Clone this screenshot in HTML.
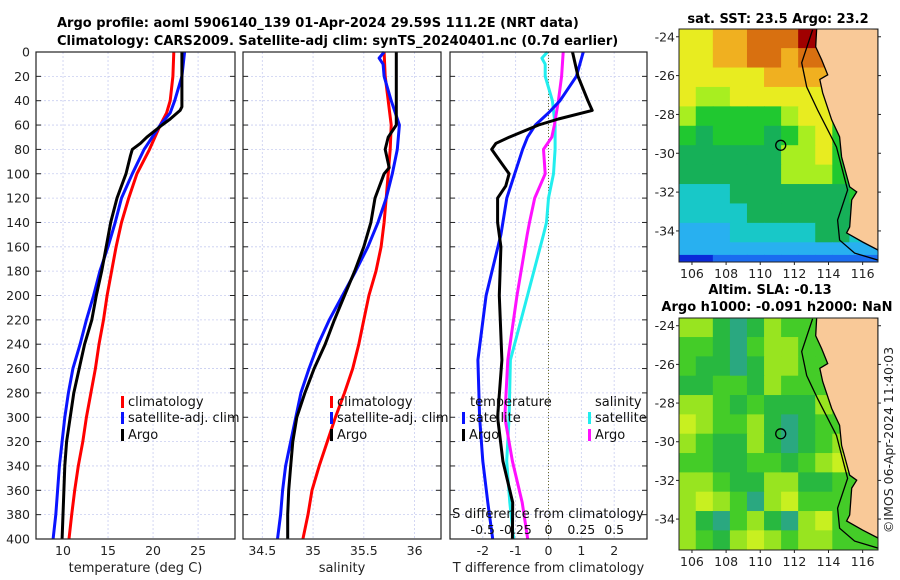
<!DOCTYPE html>
<html><head><meta charset="utf-8">
<style>
html,body{margin:0;padding:0;background:#fff;}
svg{display:block;font-family:"DejaVu Sans","Liberation Sans",sans-serif;}
</style></head>
<body>
<svg id="fig" width="900" height="580" viewBox="0 0 900 580">
<text x="57" y="27" font-size="13" font-weight="bold">Argo profile: aoml 5906140_139 01-Apr-2024 29.59S 111.2E (NRT data)</text>
<text x="57" y="45" font-size="13" font-weight="bold">Climatology: CARS2009. Satellite-adj clim: synTS_20240401.nc (0.7d earlier)</text>
<text x="778" y="23" font-size="13" font-weight="bold" text-anchor="middle">sat. SST: 23.5 Argo: 23.2</text>
<text x="770" y="294" font-size="13" font-weight="bold" text-anchor="middle">Altim. SLA: -0.13</text>
<text x="777" y="311" font-size="13" font-weight="bold" text-anchor="middle">Argo h1000: -0.091 h2000: NaN</text>
<text x="0" y="0" font-size="12.5" fill="#222" text-anchor="middle" transform="translate(893,440) rotate(-90)">©IMOS 06-Apr-2024 11:40:03</text>
</svg>
<script>
// ---------- profile data ----------
const tDepthRed=[0,20,40,50,60,80,100,120,140,160,180,200,220,240,260,280,300,320,340,360,380,400];
const tRed=[22.3,22.2,21.9,21.5,20.8,19.6,18.2,17.3,16.5,15.9,15.4,14.9,14.5,14.0,13.6,13.1,12.6,12.2,11.7,11.3,10.96,10.67];
const tDepthBlue=[0,20,40,50,60,80,100,120,140,160,180,200,220,240,260,280,300,320,340,360,380,400];
const tBlue=[23.5,23.2,22.4,21.9,20.8,19.0,17.7,16.5,15.8,15.0,14.1,13.4,12.6,11.9,11.1,10.6,10.2,9.9,9.6,9.4,9.2,8.9];
const tDepthBlack=[0,45,48,55,60,70,75,80,85,100,110,120,140,160,180,200,220,240,260,280,300,320,340,360,380,400];
const tBlack=[23.2,23.2,23.0,21.9,21.0,19.3,18.6,17.7,17.5,17.0,16.5,16.0,15.3,14.8,14.3,13.7,13.2,12.4,11.8,11.2,10.8,10.4,10.2,10.1,10.0,9.9];

const sDepthRed=[0,20,60,80,100,120,140,160,180,200,220,240,260,280,300,320,340,360,380,400];
const sRed=[35.70,35.71,35.77,35.76,35.74,35.72,35.70,35.67,35.62,35.55,35.50,35.45,35.39,35.31,35.22,35.14,35.06,34.99,34.95,34.90];
const sDepthBlue=[0,5,10,20,40,60,80,100,120,140,160,180,200,220,240,260,280,300,320,340,360,380,400];
const sBlue=[35.70,35.65,35.69,35.70,35.77,35.85,35.83,35.78,35.72,35.64,35.54,35.42,35.29,35.16,35.05,34.96,34.88,34.83,34.78,34.73,34.70,34.68,34.65];
const sDepthBlack=[0,50,60,70,80,95,100,120,140,160,180,200,220,240,260,280,300,320,340,360,380,400];
const sBlack=[35.82,35.82,35.82,35.74,35.71,35.75,35.70,35.61,35.57,35.50,35.41,35.31,35.21,35.12,35.01,34.92,34.84,34.80,34.78,34.76,34.75,34.75];

const dDepthT=[0,20,40,48,55,60,70,75,80,85,100,110,120,140,160,200,253,300,336,370,400];
const dTArgo=[0.73,0.9,1.2,1.33,0.3,-0.3,-1.2,-1.6,-1.73,-1.6,-1.2,-1.3,-1.55,-1.55,-1.45,-1.5,-1.42,-1.55,-1.39,-1.09,-1.1];
const dDepthTs=[0,20,40,50,60,70,80,100,120,140,150,200,253,300,336,370,400];
const dTSat=[1.06,0.85,0.35,0.0,-0.4,-0.64,-0.79,-1.03,-1.27,-1.39,-1.45,-1.9,-2.15,-2.1,-2.0,-1.85,-1.7];
const dDepthS=[0,20,40,60,70,80,100,120,140,150,200,253,300,336,370,400];
const dSArgo=[0.112,0.1,0.075,0.045,0.025,-0.038,-0.025,-0.105,-0.145,-0.162,-0.24,-0.31,-0.333,-0.275,-0.2,-0.158];
const dDepthSs=[0,5,10,20,40,60,80,100,120,140,150,200,253,300,336,370,400];
const dSSat=[-0.008,-0.05,-0.025,-0.025,0.03,0.05,0.05,0.038,0.0,-0.015,-0.038,-0.16,-0.29,-0.3,-0.318,-0.295,-0.265];

// ---------- map data ----------
const sstGrid=[
[7,7,8,8,9,9,9,10,10,10,9,9],
[7,7,8,8,9,9,8,9,9,8,8,8],
[7,7,7,7,7,8,8,8,8,7,7,7],
[7,6,6,7,7,7,7,7,7,6,5,5],
[6,5,5,5,5,5,6,7,7,5,5,5],
[5,4,5,5,5,4,5,6,7,5,5,5],
[4,4,4,4,4,4,6,6,7,5,5,5],
[4,4,4,4,4,4,6,6,6,5,5,5],
[3,3,3,4,4,4,4,4,4,4,5,5],
[3,3,3,3,4,4,4,4,4,4,4,4],
[2,2,2,3,3,3,3,3,4,4,3,3],
[2,2,2,2,2,2,2,2,2,2,2,2],
[0,0,1,1,1,1,1,1,1,1,1,1]];
const slaGrid=[
[3,3,1,0,1,3,2,2,2,2,2,2],
[2,2,1,0,2,3,3,2,2,2,2,2],
[2,1,1,0,1,3,3,2,2,2,2,2],
[1,1,2,2,1,3,2,2,2,2,2,2],
[3,3,2,1,2,1,1,1,3,2,2,2],
[4,3,2,2,3,1,0,1,2,2,2,2],
[3,2,1,1,3,1,0,1,2,3,2,2],
[2,2,1,1,2,2,1,2,3,4,2,2],
[3,3,2,1,1,3,3,1,1,2,2,2],
[3,4,3,2,0,3,4,2,2,2,2,2],
[3,1,0,2,3,1,0,3,4,2,2,2],
[3,2,1,3,4,3,2,3,3,2,2,2]];
const coastLon=[113.31,113.25,113.6,113.95,113.49,113.66,114.19,114.65,114.77,115.24,115.65,115.36,115.24,115.06,116.0,116.9];
const coastLat=[-23.55,-24.52,-25.19,-25.96,-26.2,-26.89,-28.28,-29.15,-30.19,-31.73,-31.99,-32.4,-33.79,-34.1,-34.57,-34.98];
const isoLon=[113.07,112.43,112.72,113.36,114.47,115.12,114.53,114.65,115.53,116.9];
const isoLat=[-23.64,-25.34,-26.58,-27.77,-29.68,-31.89,-33.44,-34.47,-35.14,-35.5];
const argoLon=[111.2];
const argoLat=[-29.59];

const NS="http://www.w3.org/2000/svg";
const svg=document.getElementById('fig');
function mk(tag,attrs,parent){const e=document.createElementNS(NS,tag);for(const k in attrs)e.setAttribute(k,attrs[k]);(parent||svg).appendChild(e);return e;}
function txt(s,attrs,parent){const e=mk('text',attrs,parent);e.textContent=s;return e;}

const Y0=52,Y1=539;
function yD(d){return Y0+(Y1-Y0)*d/400;}

function panel(name,x0,x1,xmin,xmax,ticks,tickLabels,xlabel){
  const g=mk('g',{});
  
  
  const xs=v=>x0+(x1-x0)*(v-xmin)/(xmax-xmin);
  for(let d=20;d<400;d+=20){
    const l=mk('line',{x1:x0,x2:x1,y1:yD(d),y2:yD(d),stroke:'#c8cdf0','stroke-width':0.8,'stroke-dasharray':'2,2'},g);
    
    
    mk('line',{x1:x0,x2:x0+5,y1:yD(d),y2:yD(d),stroke:'#222'},g);
    mk('line',{x1:x1-5,x2:x1,y1:yD(d),y2:yD(d),stroke:'#222'},g);
  }
  ticks.forEach((v,i)=>{
    const X=xs(v);
    const l=mk('line',{x1:X,x2:X,y1:Y0,y2:Y1,stroke:'#c8cdf0','stroke-width':0.8,'stroke-dasharray':'2,2'},g);
    
    
    const t=txt(tickLabels[i],{x:X,y:555,'font-size':12.5,fill:'#222','text-anchor':'middle'},g);
    
    
  });
  const xl=txt(xlabel,{x:(x0+x1)/2,y:572,'font-size':13,fill:'#222','text-anchor':'middle'},g);
  
  
  return {g,xs,x0,x1};
}
function frame(p){
  const r=mk('rect',{x:p.x0,y:Y0,width:p.x1-p.x0,height:Y1-Y0,fill:'none',stroke:'#222','stroke-width':1.2},p.g);
  
  
}
function series(p,depths,vals,color,name,scale){
  const pts=depths.map((d,i)=>p.xs(vals[i]*(scale||1)).toFixed(1)+','+yD(d).toFixed(1)).join(' ');
  const pl=mk('polyline',{points:pts,fill:'none',stroke:color,'stroke-width':3,'stroke-linejoin':'round'},p.g);
  
  
}
function legendEntry(p,x,y,color,label,name){
  mk('rect',{x:x,y:y-10,width:3,height:12,fill:color},p.g);
  const t=txt(label,{x:x+7,y:y,'font-size':13,fill:'#111'},p.g);
  
  
}

for(let d=0;d<=400;d+=20){
  const t=txt(String(d),{x:30,y:yD(d)+4.5,'font-size':12.5,fill:'#222','text-anchor':'end'});
  
  
}

const p1=panel('temperature-panel',36,235,7,29.1,[10,15,20,25],['10','15','20','25'],'temperature (deg C)');
series(p1,tDepthRed,tRed,'#ff0000','temp-climatology-line');
series(p1,tDepthBlue,tBlue,'#0a14ff','temp-satellite-line');
series(p1,tDepthBlack,tBlack,'#000','temp-argo-line');
legendEntry(p1,121,406,'#ff0000','climatology','legend-climatology');
legendEntry(p1,121,422,'#0a14ff','satellite-adj. clim','legend-satellite');
legendEntry(p1,121,439,'#000','Argo','legend-argo');
frame(p1);

const p2=panel('salinity-panel',243,441,34.31,36.26,[34.5,35,35.5,36],['34.5','35','35.5','36'],'salinity');
series(p2,sDepthRed,sRed,'#ff0000','sal-climatology-line');
series(p2,sDepthBlue,sBlue,'#0a14ff','sal-satellite-line');
series(p2,sDepthBlack,sBlack,'#000','sal-argo-line');
legendEntry(p2,330,406,'#ff0000','climatology','legend-climatology');
legendEntry(p2,330,422,'#0a14ff','satellite-adj. clim','legend-satellite');
legendEntry(p2,330,439,'#000','Argo','legend-argo');
frame(p2);

const p3=panel('difference-panel',450,647,-3,3,[-2,-1,0,1,2],['-2','-1','0','1','2'],'T difference from climatology');
const zl=mk('line',{x1:p3.xs(0),x2:p3.xs(0),y1:Y0,y2:Y1,stroke:'#6b6b2a','stroke-width':1,'stroke-dasharray':'1,2'},p3.g);


series(p3,dDepthSs,dSSat,'#22eeee','sal-diff-satellite-line',4);
series(p3,dDepthS,dSArgo,'#ff10ff','sal-diff-argo-line',4);
series(p3,dDepthTs,dTSat,'#0a14ff','temp-diff-satellite-line');
series(p3,dDepthT,dTArgo,'#000','temp-diff-argo-line');
const lt=txt('temperature',{x:470,y:406,'font-size':13,fill:'#111'},p3.g);


const ls=txt('salinity',{x:595,y:406,'font-size':13,fill:'#111'},p3.g);


legendEntry(p3,462,422,'#0a14ff','satellite','legend-temp-satellite');
legendEntry(p3,462,439,'#000','Argo','legend-temp-argo');
legendEntry(p3,588,422,'#22eeee','satellite','legend-sal-satellite');
legendEntry(p3,588,439,'#ff10ff','Argo','legend-sal-argo');
const sTicks=[-0.5,-0.25,0,0.25,0.5];
const sTickLabels=['-0.5','-0.25','0','0.25','0.5'];
sTicks.forEach((v,i)=>{
  const t=txt(sTickLabels[i],{x:p3.xs(v*4),y:534,'font-size':12.5,fill:'#111','text-anchor':'middle'},p3.g);
  
  
});
const st=txt('S difference from climatology',{x:548,y:518,'font-size':13,fill:'#111','text-anchor':'middle'},p3.g);


frame(p3);

const sstColors=['#0a2ad8','#1a6cf0','#28b0f0','#18c8c8','#16b058','#20c830','#a8ee20','#e8ec20','#f0b020','#d87010','#a00000'];
const slaColors=['#2aa880','#28b840','#44cc28','#98e420','#c8f020'];
const MX0=679,MX1=878,LON0=105.24,LON1=116.9;
const LAT0=-23.6,LAT1=-35.6;
function mapPanel(name,y0,y1,grid,colors,rowH){
  const g=mk('g',{});
  
  
  const lx=v=>MX0+(MX1-MX0)*(v-LON0)/(LON1-LON0);
  const ly=v=>y0+(y1-y0)*(v-LAT0)/(LAT1-LAT0);
  const cid='clip'+name;
  const cp=mk('clipPath',{id:cid},g);
  mk('rect',{x:MX0,y:y0,width:MX1-MX0,height:y1-y0},cp);
  const inner=mk('g',{'clip-path':'url(#'+cid+')'},g);
  grid.forEach((row,j)=>row.forEach((c,i)=>{
    const top=j<12?LAT0-j:-35.25;
    const h=j<12?1:1;
    const r=mk('rect',{x:lx(LON0+i)-0.3,y:ly(top)-0.3,width:lx(LON0+i+1)-lx(LON0+i)+0.6,height:ly(top-h)-ly(top)+0.6,fill:colors[c]},inner);
    
    
  }));
  let pts=coastLon.map((v,i)=>lx(v).toFixed(1)+','+ly(coastLat[i]).toFixed(1));
  pts.push(MX1+','+ly(-35.05).toFixed(1),MX1+','+y0);
  const land=mk('polygon',{points:pts.join(' '),fill:'#f9c998',stroke:'#000','stroke-width':1.3},inner);
  
  
  const iso=mk('polyline',{points:isoLon.map((v,i)=>lx(v).toFixed(1)+','+ly(isoLat[i]).toFixed(1)).join(' '),fill:'none',stroke:'#000','stroke-width':1.3},inner);
  
  
  const ci=mk('circle',{cx:lx(argoLon[0]),cy:ly(argoLat[0]),r:5,fill:'none',stroke:'#000','stroke-width':1.3},g);
  
  
  mk('rect',{x:MX0,y:y0,width:MX1-MX0,height:y1-y0,fill:'none',stroke:'#222','stroke-width':1},g);
  [-24,-26,-28,-30,-32,-34].forEach(v=>{
    const t=txt(String(v),{x:MX0-4,y:ly(v)+4.5,'font-size':12.5,fill:'#222','text-anchor':'end'},g);
    
    
    mk('line',{x1:MX0,x2:MX0-3,y1:ly(v),y2:ly(v),stroke:'#222'},g);
    mk('line',{x1:MX1,x2:MX1+3,y1:ly(v),y2:ly(v),stroke:'#222'},g);
  });
  [106,108,110,112,114,116].forEach(v=>{
    const t=txt(String(v),{x:lx(v),y:y1+16,'font-size':12.5,fill:'#222','text-anchor':'middle'},g);
    
    
    mk('line',{x1:lx(v),x2:lx(v),y1:y1,y2:y1+3,stroke:'#222'},g);
  });
}
mapPanel('sst-map',29,262,sstGrid,sstColors);
mapPanel('sla-map',318,550,slaGrid,slaColors);
</script>
</body></html>
